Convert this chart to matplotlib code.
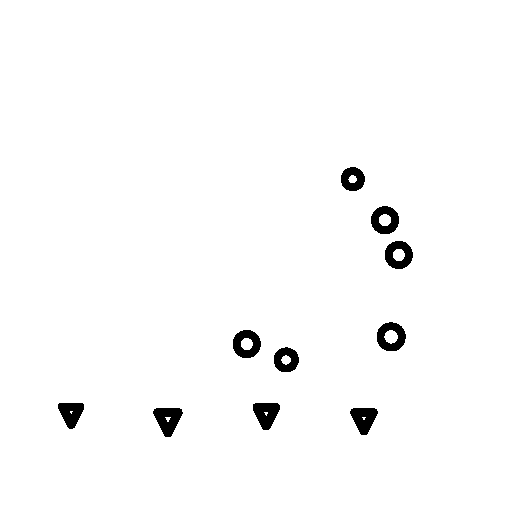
import matplotlib
matplotlib.use('Agg')
import matplotlib.pyplot as plt

# 원 마커 (x, y, 크기)
circle_x = [6.89, 7.52, 7.79, 7.64, 4.82, 5.59]
circle_y = [6.50, 5.70, 5.02, 3.42, 3.28, 2.97]
circle_size = [23, 27, 27, 28, 27, 24]

# 삼각형 마커
tri_x = [1.39, 3.28, 5.20, 7.11]
tri_y = [1.88, 1.74, 1.86, 1.76]
tri_size = [27, 30, 28, 28]

LW = 4.8
TRI_LW = 5.5


def to_area(outer_px, lw_pt):
    # 바깥 지름(px) -> scatter s (pt^2)
    d = outer_px * 0.72 - lw_pt
    return d ** 2


fig = plt.figure(figsize=(5.12, 5.12), dpi=100)
ax = fig.add_axes([0, 0, 1, 1])

ax.scatter(circle_x, circle_y, s=[to_area(d, LW) for d in circle_size],
           marker='o', facecolors='white', edgecolors='black',
           linewidths=LW, antialiased=False)
ax.scatter(tri_x, tri_y, s=[to_area(d, TRI_LW) * 0.85 for d in tri_size],
           marker='v', facecolors='white', edgecolors='black',
           linewidths=TRI_LW, joinstyle='round', antialiased=False)

ax.set_xlim(0, 10)
ax.set_ylim(0, 10)
ax.axis('off')

plt.savefig('out.png', dpi=100, facecolor='white')
plt.close()
